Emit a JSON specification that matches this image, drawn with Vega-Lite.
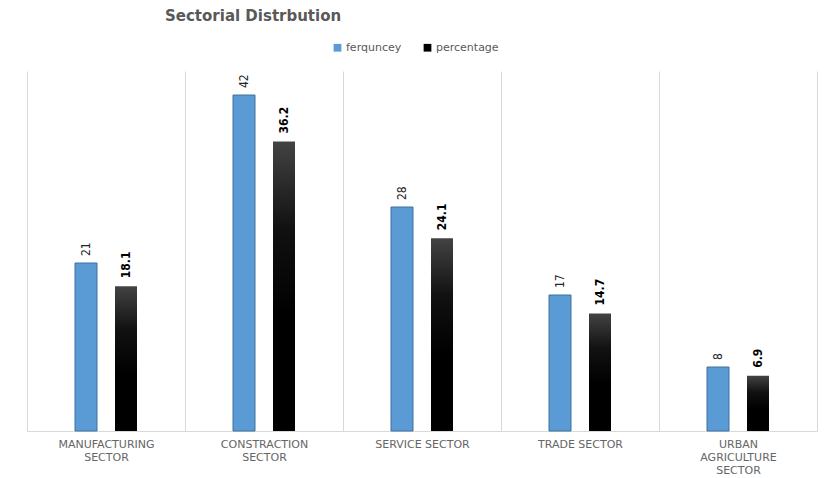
{
  "$schema": "https://vega.github.io/schema/vega-lite/v6.json",
  "width": 790,
  "height": 360,
  "autosize": "none",
  "padding": {"left": 27, "top": 71, "right": 10, "bottom": 47},
  "background": "white",
  "title": {
    "text": "Sectorial Distrbution",
    "anchor": "start",
    "frame": "group",
    "dx": 138,
    "offset": 6,
    "baseline": "alphabetic",
    "font": "DejaVu Sans",
    "fontSize": 15,
    "fontWeight": "bold",
    "color": "#595959"
  },
  "data": {
    "values": [
      {"sector": "MANUFACTURING SECTOR", "series": "ferquncey", "value": 21},
      {"sector": "MANUFACTURING SECTOR", "series": "percentage", "value": 18.1},
      {"sector": "CONSTRACTION SECTOR", "series": "ferquncey", "value": 42},
      {"sector": "CONSTRACTION SECTOR", "series": "percentage", "value": 36.2},
      {"sector": "SERVICE SECTOR", "series": "ferquncey", "value": 28},
      {"sector": "SERVICE SECTOR", "series": "percentage", "value": 24.1},
      {"sector": "TRADE SECTOR", "series": "ferquncey", "value": 17},
      {"sector": "TRADE SECTOR", "series": "percentage", "value": 14.7},
      {"sector": "URBAN AGRICULTURE SECTOR", "series": "ferquncey", "value": 8},
      {"sector": "URBAN AGRICULTURE SECTOR", "series": "percentage", "value": 6.9}
    ]
  },
  "encoding": {
    "x": {
      "field": "sector",
      "type": "nominal",
      "sort": null,
      "scale": {"paddingInner": 0, "paddingOuter": 0},
      "axis": {
        "title": null,
        "labelAngle": 0,
        "ticks": false,
        "tickBand": "extent",
        "grid": true,
        "gridColor": "#d9d9d9",
        "gridWidth": 1,
        "domainColor": "#d9d9d9",
        "labelFont": "DejaVu Sans",
        "labelFontSize": 11,
        "labelColor": "#666666",
        "labelPadding": 7,
        "labelLineHeight": 13,
        "labelBaseline": "top",
        "labelExpr": "datum.value == 'MANUFACTURING SECTOR' ? ['MANUFACTURING', 'SECTOR'] : datum.value == 'CONSTRACTION SECTOR' ? ['CONSTRACTION', 'SECTOR'] : datum.value == 'URBAN AGRICULTURE SECTOR' ? ['URBAN', 'AGRICULTURE', 'SECTOR'] : datum.value"
      }
    },
    "xOffset": {
      "field": "series",
      "type": "nominal",
      "scale": {"domain": ["ferquncey", "percentage"], "range": [48, 110], "paddingInner": 0.45, "paddingOuter": 0}
    },
    "y": {
      "field": "value",
      "type": "quantitative",
      "scale": {"domain": [0, 45]},
      "axis": null
    }
  },
  "layer": [
    {
      "transform": [{"filter": "datum.series == 'ferquncey'"}],
      "mark": {"type": "bar", "stroke": "#41719c", "strokeWidth": 1},
      "encoding": {
        "color": {
          "field": "series",
          "type": "nominal",
          "scale": {"domain": ["ferquncey", "percentage"], "range": ["#5b9bd5", "#000000"]},
          "legend": {
            "title": null,
            "orient": "none",
            "direction": "horizontal",
            "legendX": 305,
            "legendY": -29,
            "symbolType": "square",
            "symbolSize": 60,
            "symbolStrokeWidth": 0,
            "labelFont": "DejaVu Sans",
            "labelFontSize": 11,
            "labelColor": "#595959",
            "labelOffset": 3,
            "columnPadding": 20
          }
        }
      }
    },
    {
      "transform": [{"filter": "datum.series == 'percentage'"}],
      "mark": {
        "type": "bar",
        "fill": {
          "gradient": "linear",
          "x1": 0, "y1": 0, "x2": 0, "y2": 1,
          "stops": [
            {"offset": 0, "color": "#434343"},
            {"offset": 0.3, "color": "#111111"},
            {"offset": 0.6, "color": "#000000"},
            {"offset": 1, "color": "#000000"}
          ]
        }
      }
    },
    {
      "transform": [{"filter": "datum.series == 'ferquncey'"}],
      "mark": {
        "type": "text",
        "angle": 270,
        "align": "left",
        "baseline": "middle",
        "dx": 7,
        "font": "DejaVu Sans Condensed, DejaVu Sans, sans-serif",
        "fontSize": 12,
        "color": "#262626"
      },
      "encoding": {"text": {"field": "value", "type": "quantitative", "format": "d"}}
    },
    {
      "transform": [{"filter": "datum.series == 'percentage'"}],
      "mark": {
        "type": "text",
        "angle": 270,
        "align": "left",
        "baseline": "middle",
        "dx": 8,
        "font": "DejaVu Sans Condensed, DejaVu Sans, sans-serif",
        "fontSize": 12,
        "fontWeight": "bold",
        "color": "#000000"
      },
      "encoding": {"text": {"field": "value", "type": "quantitative", "format": ".1f"}}
    }
  ],
  "config": {
    "view": {"stroke": null}
  }
}
